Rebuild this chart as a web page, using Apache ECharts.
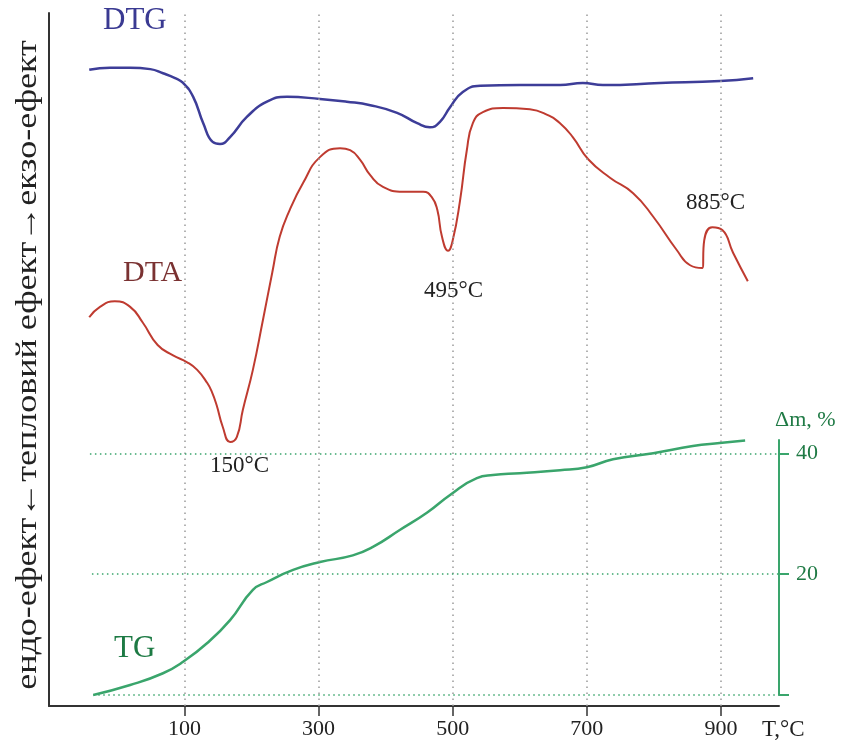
<!DOCTYPE html>
<html><head><meta charset="utf-8">
<script src="https://cdn.jsdelivr.net/npm/echarts@6/dist/echarts.min.js"></script>
<style>html,body{margin:0;padding:0;background:#fff}#c{width:845px;height:746px}</style>
</head><body><div id="c"></div>
<script>
// Temperature axis ticks (°C)
const tempTicks = [100, 300, 500, 700, 900];
// Mass-loss axis ticks (%)
const massTicks = [0, 20, 40];
const massLabels = [20, 40];

// DTG curve (relative units)
const dtgTemp = [-42, -11, 19, 49, 68, 86, 98, 113, 128, 142, 153, 168, 193, 223, 253, 302, 342, 377, 417, 447, 466, 481, 496, 515, 541, 600, 660, 694, 724, 809, 899, 948];
const dtgSignal = [91.8, 92.1, 92.1, 91.9, 91.3, 90.6, 89.9, 87.9, 84.1, 81.4, 81.1, 82.1, 85.0, 87.2, 87.9, 87.6, 87.2, 86.7, 85.6, 84.1, 83.5, 84.3, 86.4, 88.6, 89.5, 89.6, 89.6, 89.9, 89.6, 89.9, 90.2, 90.6];

// DTA curve (relative units)
const dtaTemp = [-42, -26, -4, 19, 38, 60, 83, 104, 119, 134, 141, 148, 157, 168, 178, 187, 202, 217, 231, 242, 257, 277, 302, 332, 347, 362, 377, 396, 426, 456, 469, 477, 484, 493, 500, 511, 521, 530, 545, 575, 615, 641, 660, 679, 702, 735, 769, 799, 834, 854, 872, 875, 887, 902, 918, 940];
const dtaSignal = [56.1, 57.6, 58.4, 57.6, 55.3, 52.1, 50.6, 49.6, 48.5, 46.6, 45.3, 43.4, 40.3, 38.1, 38.8, 42.7, 48.5, 55.7, 62.6, 67.7, 71.6, 75.5, 79.2, 80.5, 80.2, 78.8, 76.6, 74.9, 74.2, 74.2, 73.4, 71.6, 67.7, 65.7, 67.2, 73.0, 80.2, 84.1, 85.7, 86.3, 86.1, 85.3, 84.1, 82.1, 78.9, 76.2, 74.0, 70.6, 65.8, 63.6, 63.2, 67.2, 69.1, 68.7, 65.4, 61.3];

// TG curve (mass loss, %)
const tgTemp = [-36, 19, 68, 98, 134, 168, 202, 223, 262, 302, 351, 381, 421, 462, 496, 536, 560, 600, 660, 700, 739, 799, 858, 898, 936];
const tgMass = [0, 1.65, 3.6, 5.5, 8.6, 12.4, 17.4, 18.7, 20.7, 22.0, 23.1, 24.5, 27.3, 30.2, 33.1, 35.9, 36.4, 36.7, 37.2, 37.7, 39.0, 40.0, 41.2, 41.7, 42.1];

const pairs = (xs, ys) => xs.map((x, i) => [x, ys[i]]);
const SERIF = '"Liberation Serif", "DejaVu Serif", serif';
const TMIN = -102, TMAX = 986.5;
const GREEN = '#3aa56c';

const chart = echarts.init(document.getElementById('c'));
chart.setOption({
  animation: false,
  backgroundColor: '#fff',
  grid: [
    {left: 49, right: 66, top: 13, bottom: 40},
    {left: 49, right: 66, top: 440, bottom: 51}
  ],
  xAxis: [
    {type: 'value', gridIndex: 0, min: TMIN, max: TMAX,
     axisLine: {show: true, onZero: false, lineStyle: {color: '#333', width: 2}},
     axisTick: {show: true, length: 10, customValues: tempTicks, lineStyle: {color: '#333', width: 1.5}},
     axisLabel: {show: true, customValues: tempTicks, margin: 12, fontFamily: SERIF, fontSize: 22, color: '#222'},
     splitLine: {show: false}},
    {type: 'value', gridIndex: 1, min: TMIN, max: TMAX, show: false}
  ],
  yAxis: [
    {type: 'value', gridIndex: 0, min: 0, max: 100,
     axisLine: {show: true, onZero: false, lineStyle: {color: '#333', width: 2}},
     axisTick: {show: false}, axisLabel: {show: false}, splitLine: {show: false}},
    {type: 'value', gridIndex: 1, position: 'right', min: 0, max: 42.2,
     axisLine: {show: true, onZero: false, lineStyle: {color: GREEN, width: 2}},
     axisTick: {show: true, length: 10, customValues: massTicks, lineStyle: {color: GREEN, width: 2}},
     axisLabel: {show: true, customValues: massLabels, margin: 17, padding: [0, 0, 9, 0],
       fontFamily: SERIF, fontSize: 22, color: '#1f7a45'},
     splitLine: {show: false}}
  ],
  series: [
    {type: 'line', xAxisIndex: 0, yAxisIndex: 0, data: [], z: 1, silent: true,
     markLine: {silent: true, symbol: 'none', label: {show: false},
       lineStyle: {color: '#9a9a9a', type: [1.5, 4.5], width: 1.5},
       data: tempTicks.map(t => ({xAxis: t}))}},
    {type: 'line', xAxisIndex: 1, yAxisIndex: 1, data: [], z: 1, silent: true,
     markLine: {silent: true, symbol: 'none', label: {show: false},
       lineStyle: {color: GREEN, type: [1.5, 3.5], width: 1.5},
       data: [
         [{coord: [-41, 40]}, {coord: [TMAX, 40]}],
         [{coord: [-38, 20]}, {coord: [TMAX, 20]}],
         [{coord: [-36, 0]}, {coord: [TMAX, 0]}]
       ]}},
    {name: 'DTG', type: 'line', xAxisIndex: 0, yAxisIndex: 0, data: pairs(dtgTemp, dtgSignal),
     smooth: 0.5, symbol: 'none', z: 3,
     lineStyle: {color: '#3d3d98', width: 2.5}},
    {name: 'DTA', type: 'line', xAxisIndex: 0, yAxisIndex: 0, data: pairs(dtaTemp, dtaSignal),
     smooth: 0.5, symbol: 'none', z: 3,
     lineStyle: {color: '#bf3b30', width: 2}},
    {name: 'TG', type: 'line', xAxisIndex: 1, yAxisIndex: 1, data: pairs(tgTemp, tgMass),
     smooth: 0.5, symbol: 'none', z: 3, clip: false,
     lineStyle: {color: GREEN, width: 2.5}}
  ],
  graphic: [
    {type: 'text', left: 103, top: 5, style: {text: 'DTG', font: '31px ' + SERIF, fill: '#3a3a92'}},
    {type: 'text', left: 123, top: 258, style: {text: 'DTA', font: '30px ' + SERIF, fill: '#7a3232'}},
    {type: 'text', left: 114, top: 633, style: {text: 'TG', font: '31px ' + SERIF, fill: '#1d7a44'}},
    {type: 'text', left: 210, top: 454, style: {text: '150°C', font: '23px ' + SERIF, fill: '#222'}},
    {type: 'text', left: 424, top: 279, style: {text: '495°C', font: '23px ' + SERIF, fill: '#222'}},
    {type: 'text', left: 686, top: 191, style: {text: '885°C', font: '23px ' + SERIF, fill: '#222'}},
    {type: 'text', left: 762, top: 718, style: {text: 'T,°C', font: '23px ' + SERIF, fill: '#222'}},
    {type: 'text', left: 775, top: 409, style: {text: 'Δm, %', font: '22px ' + SERIF, fill: '#1f7a45'}},
    {type: 'text', x: 28, y: 365, rotation: Math.PI / 2, scaleX: 1.2,
     style: {text: 'ендо-ефект←тепловий ефект→екзо-ефект', font: '30px ' + SERIF, fill: '#222',
       align: 'center', verticalAlign: 'middle'}}
  ]
});
</script></body></html>
